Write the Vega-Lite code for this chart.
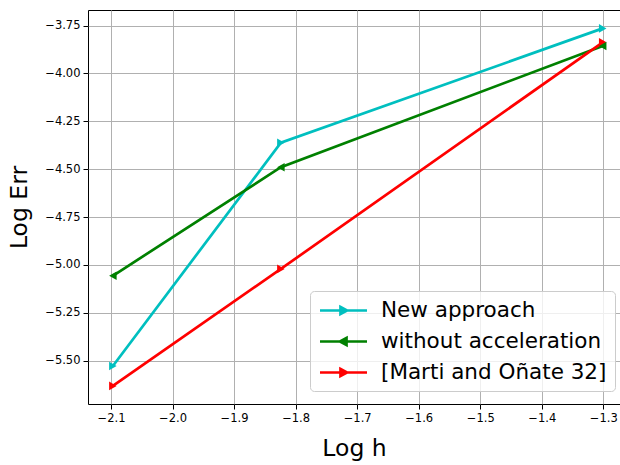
{
  "$schema": "https://vega.github.io/schema/vega-lite/v6.json",
  "width": 532,
  "height": 394,
  "autosize": {"type": "none"},
  "padding": {"left": 88, "top": 10, "right": 0, "bottom": 61},
  "background": "white",
  "config": {
    "font": "DejaVu Sans",
    "view": {"stroke": "#000000", "strokeWidth": 1},
    "axis": {
      "domain": false,
      "grid": true,
      "gridColor": "#b0b0b0",
      "gridWidth": 1,
      "tickColor": "#000000",
      "tickSize": 5,
      "tickWidth": 1,
      "labelColor": "#000000",
      "labelFont": "DejaVu Sans",
      "labelFontSize": 11.5,
      "labelPadding": 3,
      "titleFont": "DejaVu Sans",
      "titleFontWeight": "normal",
      "titleColor": "#000000",
      "titleFontSize": 23.5
    }
  },
  "data": {
    "values": [
      {"series": "New approach", "logh": -2.097, "logerr": -5.528},
      {"series": "New approach", "logh": -1.824, "logerr": -4.362},
      {"series": "New approach", "logh": -1.301, "logerr": -3.765},
      {"series": "without acceleration", "logh": -2.097, "logerr": -5.057},
      {"series": "without acceleration", "logh": -1.824, "logerr": -4.49},
      {"series": "without acceleration", "logh": -1.301, "logerr": -3.857},
      {"series": "[Marti and Oñate 32]", "logh": -2.097, "logerr": -5.632},
      {"series": "[Marti and Oñate 32]", "logh": -1.824, "logerr": -5.021},
      {"series": "[Marti and Oñate 32]", "logh": -1.301, "logerr": -3.838}
    ]
  },
  "encoding": {
    "x": {
      "field": "logh",
      "type": "quantitative",
      "scale": {"domain": [-2.1374, -1.2729], "nice": false, "zero": false},
      "axis": {
        "title": "Log h",
        "values": [-2.1, -2.0, -1.9, -1.8, -1.7, -1.6, -1.5, -1.4, -1.3],
        "format": ".1f",
        "titlePadding": 13
      }
    },
    "y": {
      "field": "logerr",
      "type": "quantitative",
      "scale": {"domain": [-5.7265, -3.669], "nice": false, "zero": false},
      "axis": {
        "title": "Log Err",
        "values": [-5.5, -5.25, -5.0, -4.75, -4.5, -4.25, -4.0, -3.75],
        "format": ".2f",
        "titlePadding": 13
      }
    },
    "color": {
      "field": "series",
      "type": "nominal",
      "sort": ["New approach", "without acceleration", "[Marti and Oñate 32]"],
      "scale": {
        "domain": ["New approach", "without acceleration", "[Marti and Oñate 32]"],
        "range": ["#00bfbf", "#008000", "#ff0000"]
      },
      "legend": {
        "title": null,
        "orient": "none",
        "legendX": 222,
        "legendY": 281,
        "padding": 8,
        "rowPadding": 9,
        "symbolOffset": 14,
        "labelOffset": 26,
        "symbolSize": 400,
        "symbolStrokeWidth": 2.7,
        "labelFontSize": 21.5,
        "labelFont": "DejaVu Sans",
        "labelColor": "#000000",
        "labelLimit": 0,
        "fillColor": "rgba(255,255,255,0.8)",
        "strokeColor": "#cccccc",
        "cornerRadius": 4,
        "encode": {
          "symbols": {
            "update": {
              "shape": {"signal": "datum.value === 'without acceleration' ? 'M-2.35,0H2.35M0.3,-0.35L-0.35,0L0.3,0.35Z' : 'M-2.35,0H2.35M-0.3,-0.35L0.35,0L-0.3,0.35Z'"},
              "fill": {"signal": "scale('color', datum.value)"},
              "stroke": {"signal": "scale('color', datum.value)"},
              "strokeWidth": {"value": 2.7},
              "opacity": {"value": 1}
            }
          }
        }
      }
    }
  },
  "layer": [
    {
      "mark": {"type": "line", "strokeWidth": 2.7, "clip": true}
    },
    {
      "transform": [{"filter": "datum.series !== 'without acceleration'"}],
      "mark": {"type": "point", "shape": "triangle-right", "filled": true, "size": 75, "opacity": 1}
    },
    {
      "transform": [{"filter": "datum.series === 'without acceleration'"}],
      "mark": {"type": "point", "shape": "triangle-left", "filled": true, "size": 75, "opacity": 1}
    }
  ]
}
